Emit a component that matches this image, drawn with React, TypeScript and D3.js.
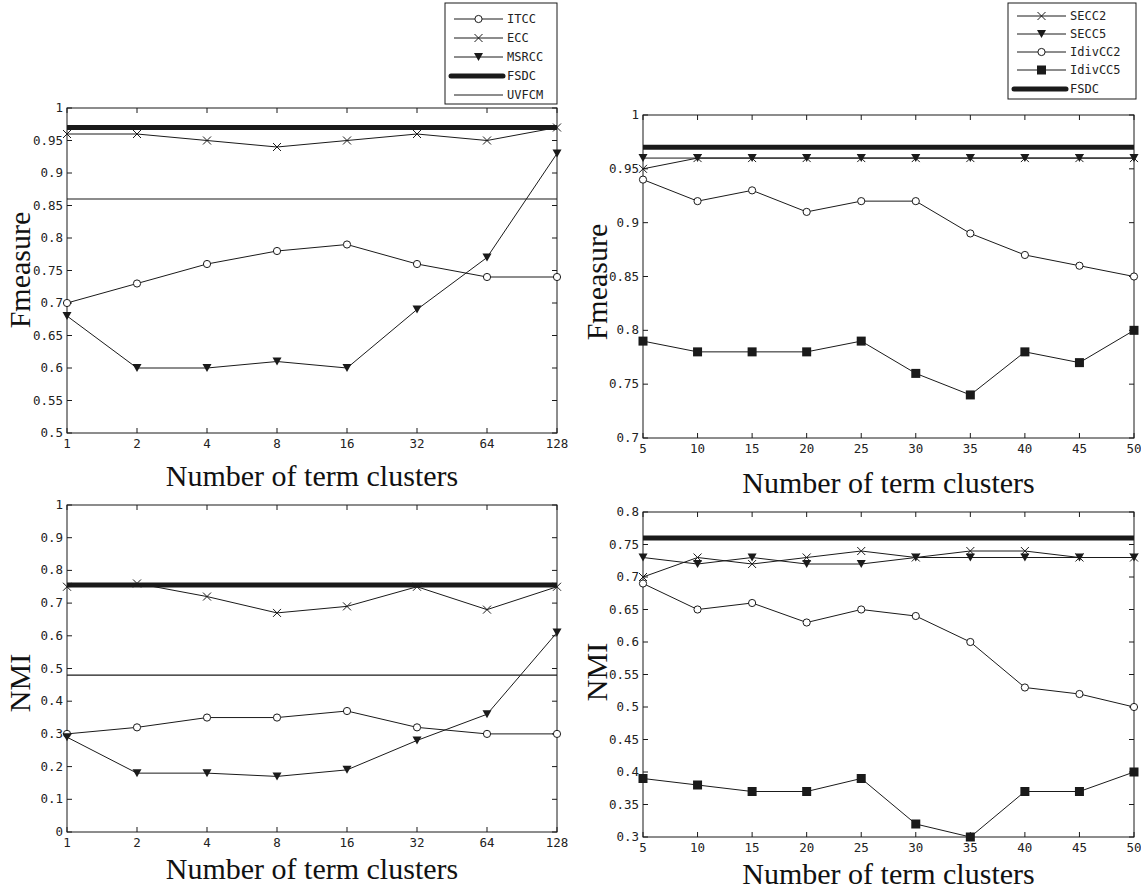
import * as d3 from 'd3';

// x categories
const termClustersA = ['1', '2', '4', '8', '16', '32', '64', '128'];
const termClustersB = [5, 10, 15, 20, 25, 30, 35, 40, 45, 50];

// top-left: Fmeasure
const fmITCC = [0.70, 0.73, 0.76, 0.78, 0.79, 0.76, 0.74, 0.74];
const fmECC = [0.96, 0.96, 0.95, 0.94, 0.95, 0.96, 0.95, 0.97];
const fmMSRCC = [0.68, 0.60, 0.60, 0.61, 0.60, 0.69, 0.77, 0.93];
const fmFSDC_A = 0.97;
const fmUVFCM = 0.86;

// top-right: Fmeasure
const fmSECC2 = [0.95, 0.96, 0.96, 0.96, 0.96, 0.96, 0.96, 0.96, 0.96, 0.96];
const fmSECC5 = [0.96, 0.96, 0.96, 0.96, 0.96, 0.96, 0.96, 0.96, 0.96, 0.96];
const fmIdivCC2 = [0.94, 0.92, 0.93, 0.91, 0.92, 0.92, 0.89, 0.87, 0.86, 0.85];
const fmIdivCC5 = [0.79, 0.78, 0.78, 0.78, 0.79, 0.76, 0.74, 0.78, 0.77, 0.80];
const fmFSDC_B = 0.97;

// bottom-left: NMI
const nmiITCC = [0.30, 0.32, 0.35, 0.35, 0.37, 0.32, 0.30, 0.30];
const nmiECC = [0.75, 0.76, 0.72, 0.67, 0.69, 0.75, 0.68, 0.75];
const nmiMSRCC = [0.29, 0.18, 0.18, 0.17, 0.19, 0.28, 0.36, 0.61];
const nmiFSDC_A = 0.755;
const nmiUVFCM = 0.48;

// bottom-right: NMI
const nmiSECC2 = [0.70, 0.73, 0.72, 0.73, 0.74, 0.73, 0.74, 0.74, 0.73, 0.73];
const nmiSECC5 = [0.73, 0.72, 0.73, 0.72, 0.72, 0.73, 0.73, 0.73, 0.73, 0.73];
const nmiIdivCC2 = [0.69, 0.65, 0.66, 0.63, 0.65, 0.64, 0.60, 0.53, 0.52, 0.50];
const nmiIdivCC5 = [0.39, 0.38, 0.37, 0.37, 0.39, 0.32, 0.30, 0.37, 0.37, 0.40];
const nmiFSDC_B = 0.76;

// y tick labels
const ticksFmA = ['0.5', '0.55', '0.6', '0.65', '0.7', '0.75', '0.8', '0.85', '0.9', '0.95', '1'];
const ticksFmB = ['0.7', '0.75', '0.8', '0.85', '0.9', '0.95', '1'];
const ticksNmiA = ['0', '0.1', '0.2', '0.3', '0.4', '0.5', '0.6', '0.7', '0.8', '0.9', '1'];
const ticksNmiB = ['0.3', '0.35', '0.4', '0.45', '0.5', '0.55', '0.6', '0.65', '0.7', '0.75', '0.8'];

const INK = '#1a1a1a';
const TICK_FONT = '"DejaVu Sans Mono", monospace';
const TITLE_FONT = '"Liberation Serif", "Times New Roman", serif';

type Marker = 'circle' | 'x' | 'tri' | 'square' | 'none';

const Mark = ({ kind, x, y }: { kind: Marker; x: number; y: number }) => {
  if (kind === 'circle') return <circle cx={x} cy={y} r={3.6} fill="white" stroke={INK} strokeWidth={1} />;
  if (kind === 'x')
    return (
      <path d={`M${x - 4},${y - 4}L${x + 4},${y + 4}M${x - 4},${y + 4}L${x + 4},${y - 4}`} stroke={INK} strokeWidth={1} />
    );
  if (kind === 'tri') return <path d={`M${x - 4.5},${y - 4}L${x + 4.5},${y - 4}L${x},${y + 4}Z`} fill={INK} />;
  if (kind === 'square') return <rect x={x - 4.5} y={y - 4.5} width={9} height={9} fill={INK} />;
  return null;
};

type Series = { name: string; values?: number[]; level?: number; marker: Marker; thick?: boolean };

type PanelProps = {
  box: { left: number; right: number; top: number; bottom: number };
  xs: (string | number)[];
  xLinear: boolean;
  yDomain: [number, number];
  yTicks: string[];
  series: Series[];
  yTitle: string;
  yTitleX: number;
  yTitleY: number;
  xTitleY: number;
};

const Panel = ({ box, xs, xLinear, yDomain, yTicks, series, yTitle, yTitleX, yTitleY, xTitleY }: PanelProps) => {
  const { left, right, top, bottom } = box;
  const xPos: (v: string | number) => number = xLinear
    ? (v) => d3.scaleLinear().domain([xs[0] as number, xs[xs.length - 1] as number]).range([left, right])(v as number)
    : (v) => d3.scalePoint<string>().domain(xs as string[]).range([left, right]).padding(0)(v as string) as number;
  const y = d3.scaleLinear().domain(yDomain).range([bottom, top]);
  const line = d3
    .line<[number, number]>()
    .x((d) => d[0])
    .y((d) => d[1]);
  const tl = 5;

  return (
    <g>
      <rect x={left} y={top} width={right - left} height={bottom - top} fill="white" stroke={INK} strokeWidth={1} />
      {yTicks.map((t) => {
        const yy = y(+t);
        return (
          <g key={'y' + t}>
            <line x1={left} x2={left + tl} y1={yy} y2={yy} stroke={INK} />
            <line x1={right} x2={right - tl} y1={yy} y2={yy} stroke={INK} />
            <text x={left - 4} y={yy + 4} textAnchor="end" fontFamily={TICK_FONT} fontSize={12.5} fill="#222">
              {t}
            </text>
          </g>
        );
      })}
      {xs.map((v) => {
        const xx = xPos(v);
        return (
          <g key={'x' + v}>
            <line x1={xx} x2={xx} y1={bottom} y2={bottom - tl} stroke={INK} />
            <line x1={xx} x2={xx} y1={top} y2={top + tl} stroke={INK} />
            <text x={xx} y={bottom + 15} textAnchor="middle" fontFamily={TICK_FONT} fontSize={12.5} fill="#222">
              {String(v)}
            </text>
          </g>
        );
      })}
      {series.map((s) => {
        if (s.level !== undefined) {
          return (
            <line
              key={s.name}
              x1={left}
              x2={right}
              y1={y(s.level)}
              y2={y(s.level)}
              stroke={INK}
              strokeWidth={s.thick ? 5 : 1.2}
            />
          );
        }
        const pts = xs.map((v, i) => [xPos(v), y(s.values![i])] as [number, number]);
        return (
          <g key={s.name}>
            <path d={line(pts) || ''} fill="none" stroke={INK} strokeWidth={1} />
            {pts.map((p, i) => (
              <Mark key={i} kind={s.marker} x={p[0]} y={p[1]} />
            ))}
          </g>
        );
      })}
      <text
        x={(left + right) / 2}
        y={xTitleY}
        textAnchor="middle"
        fontFamily={TITLE_FONT}
        fontSize={30}
        fill="#111"
      >
        Number of term clusters
      </text>
      <text
        transform={`translate(${yTitleX},${yTitleY}) rotate(-90)`}
        textAnchor="middle"
        fontFamily={TITLE_FONT}
        fontSize={30}
        fill="#111"
      >
        {yTitle}
      </text>
    </g>
  );
};

const Legend = ({
  x,
  y,
  w,
  h,
  rowY,
  items,
}: {
  x: number;
  y: number;
  w: number;
  h: number;
  rowY: number[];
  items: Series[];
}) => (
  <g>
    <rect x={x} y={y} width={w} height={h} fill="white" stroke={INK} strokeWidth={1} />
    {items.map((s, i) => {
      const yy = rowY[i];
      const x1 = x + 9;
      const x2 = x + 58;
      return (
        <g key={s.name}>
          <line x1={s.thick ? x + 6 : x1} x2={x2} y1={yy} y2={yy} stroke={INK} strokeWidth={s.thick ? 5 : 1} strokeLinecap={s.thick ? 'round' : 'butt'} />
          <Mark kind={s.marker} x={(x1 + x2) / 2} y={yy} />
          <text x={x2 + 4} y={yy + 4} fontFamily={TICK_FONT} fontSize={12} fill="#222">
            {s.name}
          </text>
        </g>
      );
    })}
  </g>
);

export default function App() {
  const leftSeriesFm: Series[] = [
    { name: 'ITCC', values: fmITCC, marker: 'circle' },
    { name: 'ECC', values: fmECC, marker: 'x' },
    { name: 'MSRCC', values: fmMSRCC, marker: 'tri' },
    { name: 'FSDC', level: fmFSDC_A, marker: 'none', thick: true },
    { name: 'UVFCM', level: fmUVFCM, marker: 'none' },
  ];
  const rightSeriesFm: Series[] = [
    { name: 'SECC2', values: fmSECC2, marker: 'x' },
    { name: 'SECC5', values: fmSECC5, marker: 'tri' },
    { name: 'IdivCC2', values: fmIdivCC2, marker: 'circle' },
    { name: 'IdivCC5', values: fmIdivCC5, marker: 'square' },
    { name: 'FSDC', level: fmFSDC_B, marker: 'none', thick: true },
  ];
  const leftSeriesNmi: Series[] = [
    { name: 'ITCC', values: nmiITCC, marker: 'circle' },
    { name: 'ECC', values: nmiECC, marker: 'x' },
    { name: 'MSRCC', values: nmiMSRCC, marker: 'tri' },
    { name: 'FSDC', level: nmiFSDC_A, marker: 'none', thick: true },
    { name: 'UVFCM', level: nmiUVFCM, marker: 'none' },
  ];
  const rightSeriesNmi: Series[] = [
    { name: 'SECC2', values: nmiSECC2, marker: 'x' },
    { name: 'SECC5', values: nmiSECC5, marker: 'tri' },
    { name: 'IdivCC2', values: nmiIdivCC2, marker: 'circle' },
    { name: 'IdivCC5', values: nmiIdivCC5, marker: 'square' },
    { name: 'FSDC', level: nmiFSDC_B, marker: 'none', thick: true },
  ];

  return (
    <svg width={1141} height={890} style={{ position: 'absolute', left: 0, top: 0, background: 'white' }}>
      <Panel
        box={{ left: 67, right: 557, top: 108, bottom: 433 }}
        xs={termClustersA}
        xLinear={false}
        yDomain={[0.5, 1]}
        yTicks={ticksFmA}
        series={leftSeriesFm}
        yTitle="Fmeasure"
        yTitleX={30}
        yTitleY={270}
        xTitleY={486}
      />
      <Panel
        box={{ left: 643, right: 1134, top: 115, bottom: 438 }}
        xs={termClustersB}
        xLinear={true}
        yDomain={[0.7, 1]}
        yTicks={ticksFmB}
        series={rightSeriesFm}
        yTitle="Fmeasure"
        yTitleX={607}
        yTitleY={282}
        xTitleY={493}
      />
      <Panel
        box={{ left: 67, right: 557, top: 505, bottom: 832 }}
        xs={termClustersA}
        xLinear={false}
        yDomain={[0, 1]}
        yTicks={ticksNmiA}
        series={leftSeriesNmi}
        yTitle="NMI"
        yTitleX={30}
        yTitleY={683}
        xTitleY={879}
      />
      <Panel
        box={{ left: 643, right: 1134, top: 512, bottom: 837 }}
        xs={termClustersB}
        xLinear={true}
        yDomain={[0.3, 0.8]}
        yTicks={ticksNmiB}
        series={rightSeriesNmi}
        yTitle="NMI"
        yTitleX={607}
        yTitleY={672}
        xTitleY={884}
      />
      <Legend x={445} y={3} w={112} h={101} rowY={[19, 38, 57, 76, 95]} items={leftSeriesFm} />
      <Legend x={1008} y={3} w={128} h={96} rowY={[16, 34, 52, 70, 89]} items={rightSeriesFm} />
    </svg>
  );
}
